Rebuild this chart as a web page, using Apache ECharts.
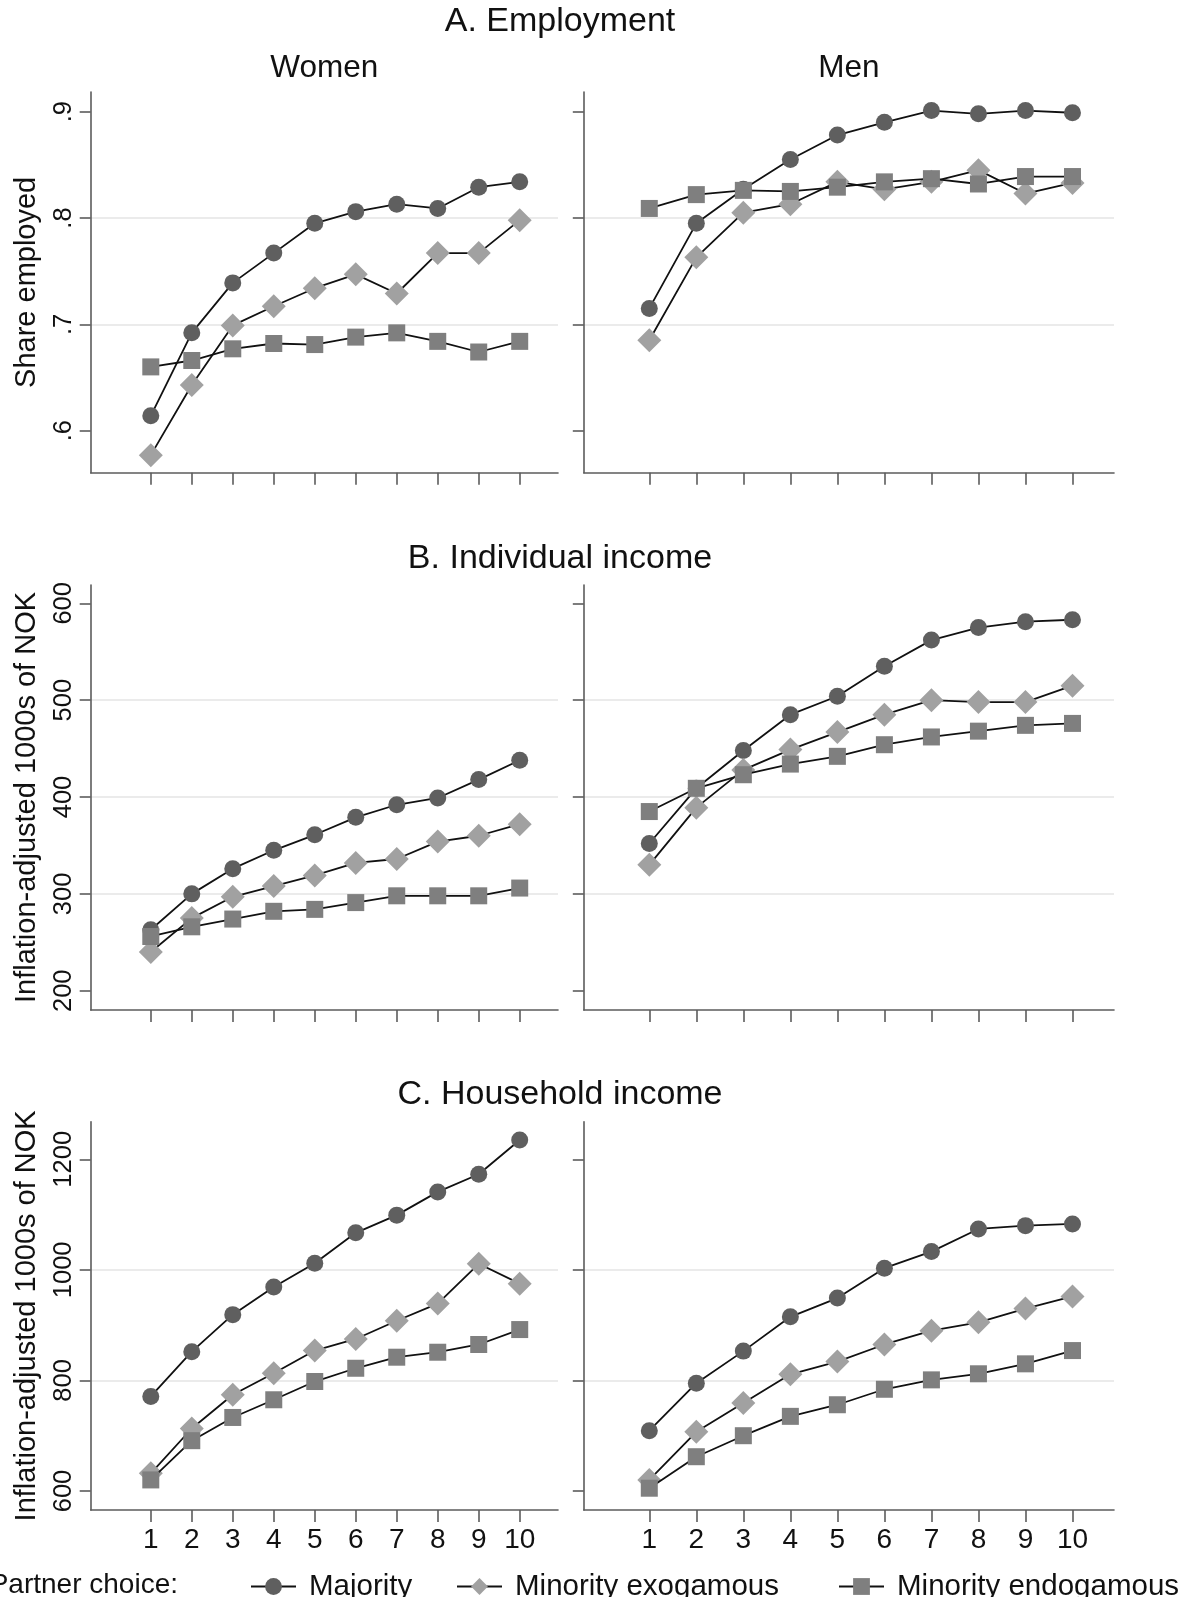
<!DOCTYPE html>
<html>
<head>
<meta charset="utf-8">
<script src="https://cdn.jsdelivr.net/npm/echarts@6/dist/echarts.min.js"></script>
<style>
html,body{margin:0;padding:0;background:#fff;}
#chart{width:1185px;height:1597px;}
</style>
</head>
<body>
<div id="chart"></div>
<script>
// ---------- data ----------
const xValues = [1, 2, 3, 4, 5, 6, 7, 8, 9, 10];
const seriesNames = ['Majority', 'Minority exogamous', 'Minority endogamous'];

const empWomenMaj  = [0.614, 0.692, 0.739, 0.767, 0.795, 0.806, 0.813, 0.809, 0.829, 0.834];
const empWomenExo  = [0.577, 0.643, 0.699, 0.717, 0.734, 0.747, 0.729, 0.767, 0.767, 0.798];
const empWomenEndo = [0.660, 0.666, 0.677, 0.682, 0.681, 0.688, 0.692, 0.684, 0.674, 0.684];
const empMenMaj    = [0.715, 0.795, 0.827, 0.855, 0.878, 0.890, 0.901, 0.898, 0.901, 0.899];
const empMenExo    = [0.685, 0.763, 0.805, 0.813, 0.834, 0.827, 0.834, 0.845, 0.823, 0.833];
const empMenEndo   = [0.809, 0.822, 0.826, 0.825, 0.829, 0.834, 0.837, 0.832, 0.839, 0.839];

const incWomenMaj  = [263, 300, 326, 345, 361, 379, 392, 399, 418, 438];
const incWomenExo  = [240, 275, 297, 308, 319, 332, 336, 354, 360, 372];
const incWomenEndo = [256, 266, 274, 282, 284, 291, 298, 298, 298, 306];
const incMenMaj    = [352, 409, 448, 485, 504, 535, 562, 575, 581, 583];
const incMenExo    = [330, 389, 428, 449, 467, 485, 500, 498, 498, 515];
const incMenEndo   = [385, 409, 423, 434, 442, 454, 462, 468, 474, 476];

const hhWomenMaj   = [771, 852, 919, 969, 1012, 1067, 1099, 1141, 1173, 1235];
const hhWomenExo   = [632, 713, 774, 813, 854, 875, 908, 939, 1011, 975];
const hhWomenEndo  = [620, 691, 733, 765, 798, 822, 842, 851, 865, 892];
const hhMenMaj     = [709, 795, 853, 915, 949, 1003, 1033, 1074, 1080, 1083];
const hhMenExo     = [620, 707, 759, 811, 834, 865, 890, 905, 930, 952];
const hhMenEndo    = [605, 662, 700, 735, 756, 784, 801, 812, 830, 854];

const empTicks = [0.6, 0.7, 0.8, 0.9];
const empTickLabels = ['.6', '.7', '.8', '.9'];
const incTicks = [200, 300, 400, 500, 600];
const hhTicks = [600, 800, 1000, 1200];

const panelTitles = ['A. Employment', 'B. Individual income', 'C. Household income'];
const columnTitles = ['Women', 'Men'];
const yAxisTitles = ['Share employed', 'Inflation-adjusted 1000s of NOK', 'Inflation-adjusted 1000s of NOK'];
const legendTitle = 'Partner choice:';

// ---------- layout / style ----------
const FONT = '"Liberation Sans", Arial, Helvetica, sans-serif';
const AXIS_COLOR = '#5c5c5c';
const colLayout = [{left: 90.7, width: 467.3}, {left: 583.8, width: 530.2}];
const colX = [[-0.466, 10.934], [-0.393, 10.883]];
const rowLayout = [
  {top: 92, height: 380.7, min: 0.5605, max: 0.9185, step: 0.1, ticks: empTicks, fmt: v => empTickLabels[empTicks.indexOf(Math.round(v*10)/10)] || ''},
  {top: 585, height: 425, min: 180.1, max: 618.9, step: 100, ticks: incTicks, fmt: v => String(v)},
  {top: 1121.7, height: 388.3, min: 565.6, max: 1268, step: 200, ticks: hhTicks, fmt: v => String(v)}
];
const panelData = [
  [[empWomenMaj, empWomenExo, empWomenEndo], [empMenMaj, empMenExo, empMenEndo]],
  [[incWomenMaj, incWomenExo, incWomenEndo], [incMenMaj, incMenExo, incMenEndo]],
  [[hhWomenMaj, hhWomenExo, hhWomenEndo], [hhMenMaj, hhMenExo, hhMenEndo]]
];
const markerStyles = [
  {symbol: 'circle', size: 17, color: '#5f5f5f'},
  {symbol: 'diamond', size: 24, color: '#a1a1a1'},
  {symbol: 'rect', size: 17, color: '#7f7f7f'}
];

const grids = [], xAxes = [], yAxes = [], series = [];
let gi = 0;
for (let r = 0; r < 3; r++) {
  for (let c = 0; c < 2; c++) {
    const R = rowLayout[r], C = colLayout[c];
    grids.push({left: C.left, width: C.width, top: R.top, height: R.height, containLabel: false});
    xAxes.push({
      type: 'value', gridIndex: gi, min: colX[c][0], max: colX[c][1],
      axisLine: {show: true, onZero: false, lineStyle: {color: AXIS_COLOR, width: 1.6}},
      axisTick: {show: true, length: 12, customValues: xValues, lineStyle: {color: AXIS_COLOR, width: 1.6}},
      axisLabel: {show: r === 2, customValues: xValues, margin: 16, fontSize: 28, color: '#111', fontFamily: FONT},
      splitLine: {show: false}
    });
    yAxes.push({
      type: 'value', gridIndex: gi, min: R.min, max: R.max, minInterval: R.step, maxInterval: R.step,
      name: c === 0 ? yAxisTitles[r] : '', nameLocation: 'middle', nameGap: 49,
      nameTextStyle: {fontSize: 29, color: '#111', fontFamily: FONT},
      axisLine: {show: true, onZero: false, lineStyle: {color: AXIS_COLOR, width: 1.6}},
      axisTick: {show: true, length: 11, customValues: R.ticks, lineStyle: {color: AXIS_COLOR, width: 1.6}},
      axisLabel: {show: c === 0, customValues: R.ticks, rotate: 90, margin: 14, fontSize: 25.5, color: '#111', fontFamily: FONT, formatter: R.fmt},
      splitLine: {show: true, showMinLine: false, showMaxLine: false, lineStyle: {color: '#ebebeb', width: 2}}
    });
    for (let s = 0; s < 3; s++) {
      const m = markerStyles[s];
      series.push({
        name: seriesNames[s], type: 'line', xAxisIndex: gi, yAxisIndex: gi,
        data: xValues.map((x, i) => [x, panelData[r][c][s][i]]),
        symbol: m.symbol, symbolSize: m.size, showSymbol: true,
        itemStyle: {color: m.color},
        lineStyle: {color: '#111', width: 1.8},
        emphasis: {disabled: true}, silent: true, z: 2 + s
      });
    }
    gi++;
  }
}

const titleY = [22, 559, 1095];
const graphics = [];
for (let r = 0; r < 3; r++) {
  graphics.push({type: 'text', x: 560, y: titleY[r], style: {text: panelTitles[r], font: '34px ' + FONT, fill: '#111', textAlign: 'center', textVerticalAlign: 'middle'}});
}
for (let c = 0; c < 2; c++) {
  graphics.push({type: 'text', x: colLayout[c].left + colLayout[c].width / 2, y: 68, style: {text: columnTitles[c], font: '31.5px ' + FONT, fill: '#111', textAlign: 'center', textVerticalAlign: 'middle'}});
}
graphics.push({type: 'text', x: 178, y: 1585, style: {text: legendTitle, font: '28px ' + FONT, fill: '#111', textAlign: 'right', textVerticalAlign: 'middle'}});

const legendLefts = [250, 456, 838];
const legends = seriesNames.map((n, i) => ({
  data: [n], left: legendLefts[i], top: 1571.5, padding: 0, itemWidth: 45, itemHeight: 21,
  selectedMode: false,
  textStyle: {fontSize: 29.5, color: '#111', fontFamily: FONT, padding: [0, 0, 0, 8]}
}));

const chart = echarts.init(document.getElementById('chart'), null, {renderer: 'canvas'});
chart.setOption({
  backgroundColor: '#fff',
  animation: false,
  grid: grids, xAxis: xAxes, yAxis: yAxes, series: series,
  legend: legends,
  graphic: graphics
});
</script>
</body>
</html>
